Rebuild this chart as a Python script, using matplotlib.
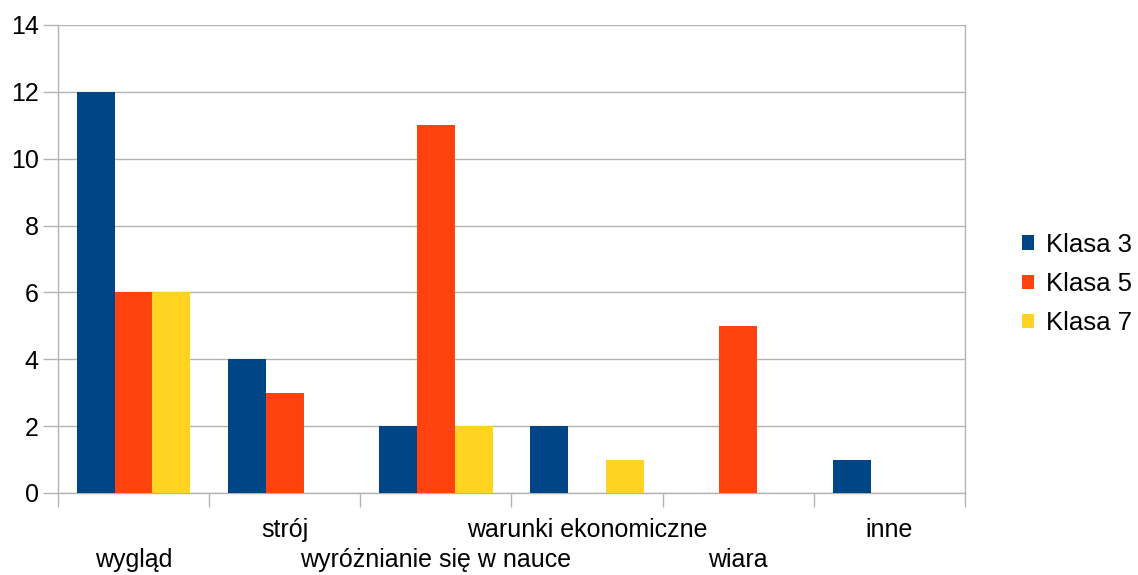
import numpy as np
import matplotlib.pyplot as plt
from matplotlib.patches import Patch

plt.rcParams['font.family'] = ['Liberation Sans', 'DejaVu Sans']

categories = ['wygląd', 'strój', 'wyróżnianie się w nauce',
              'warunki ekonomiczne', 'wiara', 'inne']
series = ['Klasa 3', 'Klasa 5', 'Klasa 7']
klasa3 = [12, 4, 2, 2, 0, 1]
klasa5 = [6, 3, 11, 0, 5, 0]
klasa7 = [6, 0, 2, 1, 0, 0]
colors = ['#004586', '#ff420e', '#ffd320']

fig = plt.figure(figsize=(11.38, 5.75), dpi=100, facecolor='white')
ax = fig.add_axes([58/1138, 1 - 493/575, (965-58)/1138, (493-25)/575])

x = np.arange(len(categories))
w = 0.25
for i, vals in enumerate([klasa3, klasa5, klasa7]):
    ax.bar(x + (i - 1) * w, vals, width=w, color=colors[i], zorder=3)

ax.set_xlim(-0.5, len(categories) - 0.5)
ax.set_ylim(0, 14)
ax.set_yticks(range(0, 15, 2))
ax.grid(axis='y', color='#b3b3b3', lw=1, zorder=0)

# category boundaries as ticks; labels staggered in two rows
ax.set_xticks(np.arange(-0.5, len(categories)), labels=[])
ax.tick_params(axis='x', length=10, color='#b3b3b3', width=1)
ax.tick_params(axis='y', length=11, color='#b3b3b3', width=1, labelsize=18, pad=3)
for i, c in enumerate(categories):
    off = -67 if i % 2 == 0 else -37
    ax.annotate(c, xy=(x[i], 0), xycoords=('data', 'axes fraction'),
                xytext=(0, off), textcoords='offset pixels',
                ha='center', va='center', fontsize=18)

ax.spines['top'].set_visible(False)
for s in ['left', 'bottom', 'right']:
    ax.spines[s].set_color('#b3b3b3')
    ax.spines[s].set_linewidth(1)

handles = [Patch(facecolor=c, label=s) for c, s in zip(colors, series)]
fig.legend(handles=handles, loc='center left', bbox_to_anchor=(1022/1138, 1 - 284/575),
           frameon=False, fontsize=18.5, borderpad=0, borderaxespad=0,
           handlelength=0.47, handleheight=0.47,
           handletextpad=0.47, labelspacing=0.6)

fig.savefig('out.png', dpi=100, facecolor='white')
